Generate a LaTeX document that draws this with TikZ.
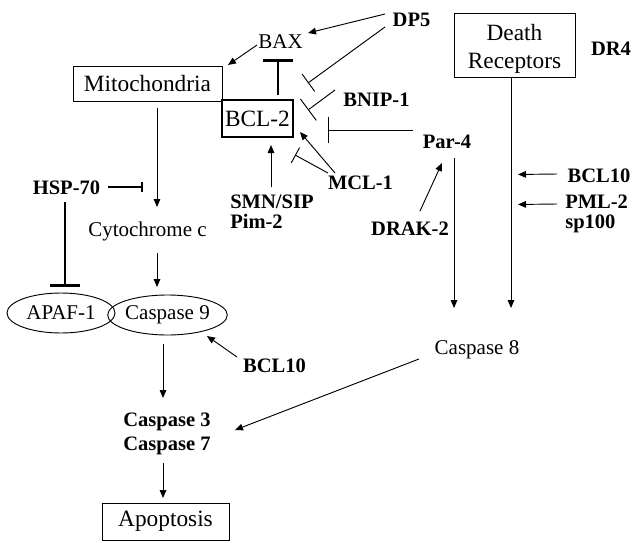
\documentclass[tikz,border=0pt]{standalone}
\usepackage{fontspec}
\setmainfont{Liberation Serif}
\usetikzlibrary{arrows.meta,calc,shapes.geometric}
\begin{document}
\begin{tikzpicture}[x=0.75pt,y=-0.75pt,
  reg/.style={font=\fontsize{15.75}{18}\selectfont, inner sep=0pt},
  bld/.style={font=\fontsize{15.4}{18}\selectfont\bfseries, inner sep=0pt},
  boxnode/.style={draw, line width=0.7pt, rectangle, inner sep=0pt, font=\fontsize{17.5}{21}\selectfont, align=center},
  ell/.style={draw, line width=0.7pt, ellipse, inner sep=0pt, minimum height=30pt, font=\fontsize{15.75}{18}\selectfont},
  conn/.style={line width=0.7pt},
  arr/.style={conn, -{Triangle[length=6pt,width=5pt]}},
  inh/.style={conn, -{Bar[width=#1]}},
]
\useasboundingbox (0,0) rectangle (634,542);

% nodes
\node[reg, anchor=base] (bax) at (280.5,49) {BAX};
\node[bld, anchor=base] (dp5) at (411.5,26.5) {DP5};
\node[boxnode, minimum width=111.75pt, minimum height=26.25pt] (mito) at (147.5,83.5) {Mitochondria};
\node[boxnode, line width=1.8pt, minimum width=53.25pt, minimum height=27.75pt] (bcl2) at (257.5,118.5) {BCL-2};
\node[bld, anchor=base] (bnip) at (376.5,106.5) {BNIP-1};
\node[bld, anchor=base] (par4) at (447,148.5) {Par-4};
\node[bld, anchor=base] (mcl1) at (360.5,189) {MCL-1};
\node[bld, anchor=base west] (smn) at (230,208.5) {SMN/SIP};
\node[bld, anchor=base west] (pim) at (230,228.5) {Pim-2};
\node[bld, anchor=base] (drak) at (410,235.5) {DRAK-2};
\node[boxnode, minimum width=90.75pt, minimum height=48pt] (dr) at (514.5,45) {\rule{0pt}{18.5pt}Death\\Receptors};
\node[bld, anchor=base] (dr4) at (611,55.5) {DR4};
\node[bld, anchor=base] (bcl10r) at (599,182) {BCL10};
\node[bld, anchor=base west] (pml) at (565,208.5) {PML-2};
\node[bld, anchor=base west] (sp) at (565,228.5) {sp100};
\node[bld, anchor=base] (hsp) at (66.5,194) {HSP-70};
\node[reg, anchor=base] (cyt) at (147.5,236) {Cytochrome c};
\node[ell, minimum width=81pt] (apaf) at (61,313) {APAF-1};
\node[ell, minimum width=80.25pt] (casp9) at (167.5,315) {Caspase 9};
\node[bld, anchor=base] (bcl10l) at (274.5,372.5) {BCL10};
\node[reg, anchor=base] (casp8) at (477,354) {Caspase 8};
\node[bld, anchor=base] (casp3) at (167,426.5) {Caspase 3};
\node[bld, anchor=base] (casp7) at (167,450.5) {Caspase 7};
\node[boxnode, minimum width=95.25pt, minimum height=27.75pt] (apop) at (165.5,521.5) {Apoptosis};

% connectors
\draw[arr] ($(dp5.base)+(-26.5,-12.5)$) -- ($(bax.base)+(27.5,-16)$);
\draw[inh=16pt] ($(dp5.base)+(-26.5,0.5)$) -- ($(bcl2)+(50.5,-35.5)$);
\draw[inh=20pt] ($(bnip.base)+(-41.5,-16.5)$) -- ($(bcl2)+(50.5,-8.5)$);
\draw[inh=20pt] ($(par4.base)+(-34,-18.5)$) -- ($(bcl2)+(70.5,11.5)$);
\draw[arr] ($(bax.base)+(-23.5,-4)$) -- ($(mito)+(80.5,-18.5)$);
\draw[inh=22.5pt, line width=2pt] ($(bcl2)+(20.5,-23.5)$) -- ($(bax.base)+(-2.5,10)$);
\draw[arr] ($(mcl1.base)+(-25.5,-16)$) -- ($(bcl2)+(42.5,13.5)$);
\draw[inh=13pt] ($(mcl1.base)+(-32.5,-16)$) -- ($(bcl2)+(37.5,36.5)$);
\draw[arr] ($(smn.base west)+(41,-21.5)$) -- ($(bcl2)+(13.5,26.5)$);
\draw[arr] ($(drak.base)+(10,-24.5)$) -- ($(par4.base)+(-5,14.5)$);
\draw[arr] ($(par4.base)+(7,9.5)$) -- ($(casp8.base)+(-23,-46)$);
\draw[arr] ($(dr.south)+(-3.5,0)$) -- ($(casp8.base)+(34,-46)$);
\draw[arr] ($(bcl10r.base)+(-42,-8)$) -- ($(dr.south)+(3.5,97)$);
\draw[arr] ($(pml.base west)+(-8,-4.5)$) -- ($(dr.south)+(3.5,127)$);
\draw[arr] ($(mito)+(9.5,24.5)$) -- ($(cyt.base)+(9.5,-29)$);
\draw[inh=8pt, line width=1.2pt] ($(hsp.base)+(41.5,-7)$) -- ($(cyt.base)+(-4.5,-49)$);
\draw[inh=22.5pt, line width=2pt] ($(hsp.base)+(-1.5,8)$) -- ($(apaf)+(4,-26)$);
\draw[arr] ($(cyt.base)+(9.5,17)$) -- ($(casp9)+(-10.5,-28)$);
\draw[arr] ($(casp9)+(-4.5,29)$) -- ($(casp3.base)+(-4,-28.5)$);
\draw[arr] ($(bcl10l.base)+(-37.5,-15.5)$) -- ($(casp9)+(39.5,21)$);
\draw[arr] ($(casp8.base)+(-58,5)$) -- ($(casp3.base)+(68,3.5)$);
\draw[arr] ($(casp7.base)+(-4,12.5)$) -- ($(apop)+(-2.5,-23.5)$);
\end{tikzpicture}
\end{document}
